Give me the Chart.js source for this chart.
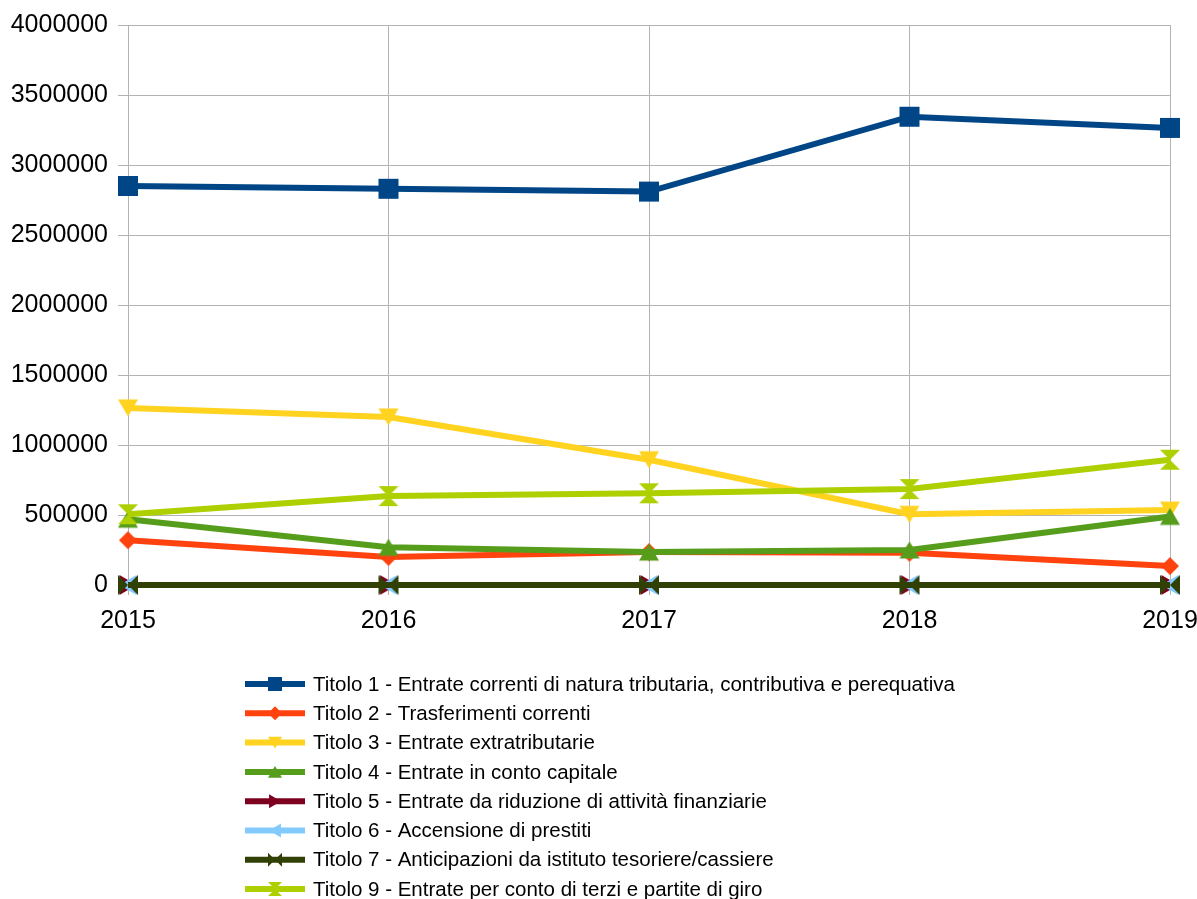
<!DOCTYPE html>
<html>
<head>
<meta charset="utf-8">
<script src="https://cdn.jsdelivr.net/npm/chart.js@4/dist/chart.umd.min.js"></script>
<style>
html, body { margin: 0; padding: 0; background: #fff; }
</style>
</head>
<body>
<canvas id="myChart" width="1197" height="899"></canvas>
<script>
'use strict';

// data
var years = ['2015', '2016', '2017', '2018', '2019'];
var names = [
  'Titolo 1 - Entrate correnti di natura tributaria, contributiva e perequativa',
  'Titolo 2 - Trasferimenti correnti',
  'Titolo 3 - Entrate extratributarie',
  'Titolo 4 - Entrate in conto capitale',
  'Titolo 5 - Entrate da riduzione di attività finanziarie',
  'Titolo 6 - Accensione di prestiti',
  'Titolo 7 - Anticipazioni da istituto tesoriere/cassiere',
  'Titolo 9 - Entrate per conto di terzi e partite di giro'
];
var titolo1 = [2850000, 2830000, 2810000, 3345000, 3265000];
var titolo2 = [320000, 200000, 235000, 230000, 135000];
var titolo3 = [1265000, 1200000, 895000, 505000, 535000];
var titolo4 = [470000, 270000, 235000, 250000, 490000];
var titolo5 = [0, 0, 0, 0, 0];
var titolo6 = [0, 0, 0, 0, 0];
var titolo7 = [0, 0, 0, 0, 0];
var titolo9 = [505000, 635000, 655000, 685000, 895000];
var yMin = 0;
var yMax = 4000000;
var yStep = 500000;

var colors = ['#004586', '#ff420e', '#ffd320', '#579d1c', '#7e0021', '#83caff', '#314004', '#aecf00'];
var markers = ['square', 'diamond', 'down', 'up', 'right', 'left', 'bowtie', 'hourglass'];

// draws one marker shape, s = half size
function drawMarker(ctx, kind, x, y, s, color) {
  ctx.save();
  ctx.fillStyle = color;
  ctx.beginPath();
  if (kind === 'square') {
    ctx.rect(x - s, y - s, 2 * s, 2 * s);
  } else if (kind === 'diamond') {
    ctx.moveTo(x, y - s); ctx.lineTo(x + s, y); ctx.lineTo(x, y + s); ctx.lineTo(x - s, y);
  } else if (kind === 'down') {
    ctx.moveTo(x - s, y - s * 0.85); ctx.lineTo(x + s, y - s * 0.85); ctx.lineTo(x, y + s * 0.85);
  } else if (kind === 'up') {
    ctx.moveTo(x - s, y + s * 0.85); ctx.lineTo(x + s, y + s * 0.85); ctx.lineTo(x, y - s * 0.85);
  } else if (kind === 'right') {
    ctx.moveTo(x - s * 0.85, y - s); ctx.lineTo(x - s * 0.85, y + s); ctx.lineTo(x + s * 0.85, y);
  } else if (kind === 'left') {
    ctx.moveTo(x + s * 0.85, y - s); ctx.lineTo(x + s * 0.85, y + s); ctx.lineTo(x - s * 0.85, y);
  } else if (kind === 'bowtie') {
    ctx.moveTo(x - s, y - s); ctx.lineTo(x, y); ctx.lineTo(x - s, y + s); ctx.closePath();
    ctx.moveTo(x + s, y - s); ctx.lineTo(x, y); ctx.lineTo(x + s, y + s);
  } else if (kind === 'hourglass') {
    ctx.moveTo(x - s, y - s); ctx.lineTo(x + s, y - s); ctx.lineTo(x, y); ctx.closePath();
    ctx.moveTo(x - s, y + s); ctx.lineTo(x + s, y + s); ctx.lineTo(x, y);
  }
  ctx.closePath();
  ctx.fill();
  ctx.restore();
}

// canvas images used as point styles
function markerImage(kind, color, s) {
  var c = document.createElement('canvas');
  c.width = 2 * s + 2;
  c.height = 2 * s + 2;
  drawMarker(c.getContext('2d'), kind, s + 1, s + 1, s, color);
  return c;
}

var seriesData = [titolo1, titolo2, titolo3, titolo4, titolo5, titolo6, titolo7, titolo9];
var datasets = [];
for (var i = 0; i < seriesData.length; i++) {
  datasets.push({
    label: names[i],
    data: seriesData[i],
    borderColor: colors[i],
    backgroundColor: colors[i],
    borderWidth: 6,
    pointStyle: markerImage(markers[i], colors[i], i === 1 ? 9 : 10),
    pointRadius: 10,
    tension: 0,
    clip: false,
    order: seriesData.length - i
  });
}

var legendBelow = {
  id: 'legendBelow',
  afterDraw: function(chart) {
    var ctx = chart.ctx;
    ctx.save();
    ctx.font = '20.5px "Liberation Sans", sans-serif';
    ctx.textBaseline = 'middle';
    for (var k = 0; k < chart.data.datasets.length; k++) {
      var y = 684 + k * 29.3;
      ctx.strokeStyle = colors[k];
      ctx.lineWidth = 6;
      ctx.beginPath();
      ctx.moveTo(245, y);
      ctx.lineTo(305, y);
      ctx.stroke();
      drawMarker(ctx, markers[k], 275, y, 7, colors[k]);
      ctx.fillStyle = '#000';
      ctx.fillText(chart.data.datasets[k].label, 313, y + 1);
    }
    ctx.restore();
  }
};

var tickFont = { family: '"Liberation Sans", Arial, sans-serif', size: 25 };

new Chart(document.getElementById('myChart').getContext('2d'), {
  type: 'line',
  data: { labels: years, datasets: datasets },
  options: {
    responsive: false,
    animation: false,
    layout: { padding: { left: 0, right: 0, top: 25, bottom: 254 } },
    plugins: { legend: { display: false }, tooltip: { enabled: false } },
    scales: {
      x: {
        offset: false,
        grid: { color: '#b3b3b3', tickLength: 10 },
        border: { color: '#b3b3b3' },
        ticks: { font: tickFont, color: '#000', padding: 11, maxRotation: 0 },
        afterFit: function(scale) {
          scale.height = 60;
          scale.paddingLeft = 0;
          scale.paddingRight = 27;
        }
      },
      y: {
        min: yMin,
        max: yMax,
        grid: { color: '#b3b3b3', tickLength: 10 },
        border: { color: '#b3b3b3' },
        ticks: {
          stepSize: yStep,
          font: tickFont,
          color: '#000',
          padding: 10,
          callback: function(v) { return String(v); }
        },
        afterFit: function(scale) { scale.width = 128; }
      }
    }
  },
  plugins: [legendBelow]
});
</script>
</body>
</html>
